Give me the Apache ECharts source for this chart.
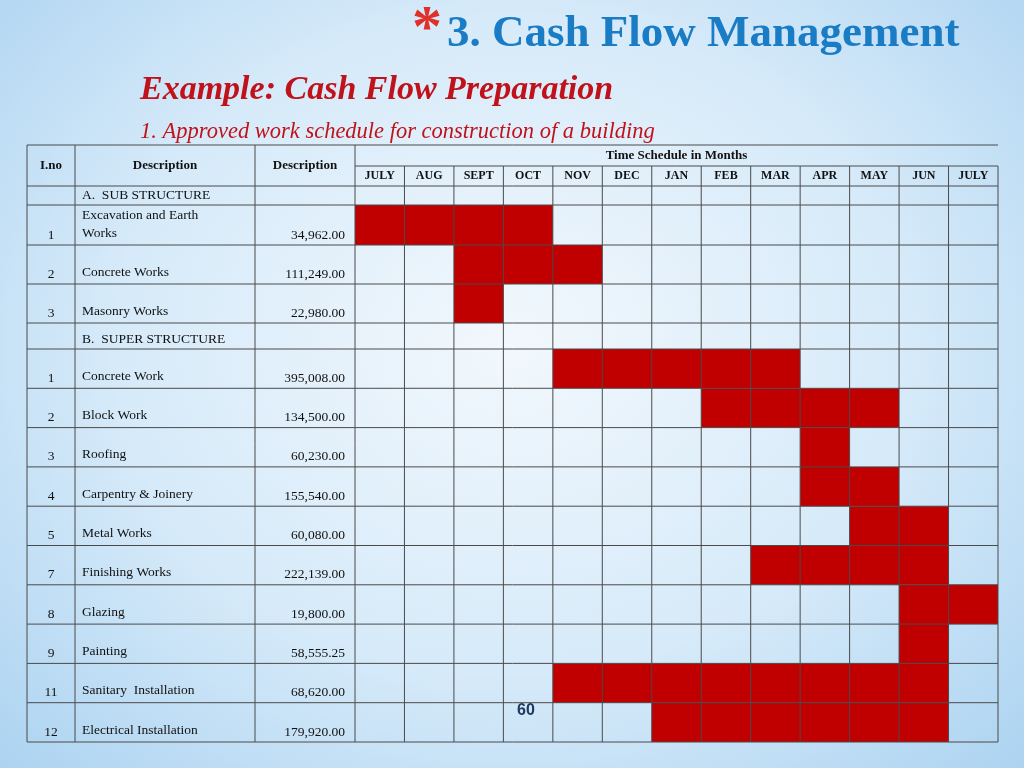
<!DOCTYPE html>
<html><head><meta charset="utf-8">
<script src="https://cdn.jsdelivr.net/npm/echarts@6/dist/echarts.min.js"></script>
<style>html,body{margin:0;padding:0}#c{width:1024px;height:768px;background:radial-gradient(ellipse at 50% 45%,#f2f8fd 0%,#d6eaf9 55%,#acd3f1 100%)}</style>
</head><body><div id="c"></div>
<script>
var months=['JULY','AUG','SEPT','OCT','NOV','DEC','JAN','FEB','MAR','APR','MAY','JUN','JULY'];
var ino=['','1','2','3','','1','2','3','4','5','7','8','9','11','12'];
var desc=['A.  SUB STRUCTURE','Excavation and Earth\nWorks','Concrete Works','Masonry Works','B.  SUPER STRUCTURE','Concrete Work','Block Work','Roofing','Carpentry & Joinery','Metal Works','Finishing Works','Glazing','Painting','Sanitary  Installation','Electrical Installation'];
var amount=['','34,962.00','111,249.00','22,980.00','','395,008.00','134,500.00','60,230.00','155,540.00','60,080.00','222,139.00','19,800.00','58,555.25','68,620.00','179,920.00'];
var startM=[null,0,2,2,null,4,7,9,9,10,8,11,11,4,6];
var endM=[null,3,4,2,null,8,10,9,10,11,11,12,11,11,11];
var H=[21,20,19,40,39,39,26,39.3,39.3,39.3,39.3,39.3,39.3,39.3,39.3,39.3,39.3];
var B=[0];H.forEach(function(h){B.push(B[B.length-1]+h);});
var total=B[B.length-1];
var font='"Liberation Serif","DejaVu Serif",serif';
var colX=[-328,-280,-100,0];
var line={stroke:'#4a4a4a',lineWidth:1};
function tableItem(params,api){
  var ch=[];
  var x0=api.coord([0,0])[0], x13=api.coord([13,0])[0];
  var Y=function(v){return api.coord([0,v])[1];};
  var L=x0+colX[0];
  for(var i=0;i<B.length;i++){
    var y=Y(B[i]);
    var xs=(i==1)?x0:L;
    ch.push({type:'line',shape:{x1:xs,y1:y,x2:x13,y2:y},style:line});
  }
  colX.forEach(function(o){ch.push({type:'line',shape:{x1:x0+o,y1:Y(0),x2:x0+o,y2:Y(total)},style:line});});
  for(var m=1;m<=13;m++){var xx=api.coord([m,0])[0];ch.push({type:'line',shape:{x1:xx,y1:Y(B[1]),x2:xx,y2:Y(total)},style:line});}
  var hy=(Y(0)+Y(B[2]))/2;
  var hs={font:'bold 13px '+font,fill:'#111',align:'center',verticalAlign:'middle'};
  ch.push({type:'text',style:Object.assign({text:'I.no',x:(x0+colX[0]+x0+colX[1])/2,y:hy},hs)});
  ch.push({type:'text',style:Object.assign({text:'Description',x:(x0+colX[1]+x0+colX[2])/2,y:hy},hs)});
  ch.push({type:'text',style:Object.assign({text:'Description',x:(x0+colX[2]+x0)/2,y:hy},hs)});
  ch.push({type:'text',style:Object.assign({text:'Time Schedule in Months',x:(x0+x13)/2,y:(Y(0)+Y(B[1]))/2},hs)});
  months.forEach(function(mn,k){ch.push({type:'text',style:Object.assign({text:mn,x:api.coord([k+0.5,0])[0],y:(Y(B[1])+Y(B[2]))/2},hs,{font:'bold 12px '+font})});});
  for(var r=0;r<desc.length;r++){
    var yb=Y(B[r+3])-3;
    var isSec=(ino[r]==='' && amount[r]==='');
    var ts={font:'13.5px '+font,fill:'#111',verticalAlign:'bottom'};
    if(isSec){ch.push({type:'text',style:Object.assign({text:desc[r],x:x0+colX[1]+7,y:yb},ts)});continue;}
    ch.push({type:'text',style:Object.assign({text:ino[r],x:(x0+colX[0]+x0+colX[1])/2,y:yb,align:'center'},ts)});
    ch.push({type:'text',style:Object.assign({text:desc[r],x:x0+colX[1]+7,y:yb,lineHeight:18},ts)});
    ch.push({type:'text',style:Object.assign({text:amount[r],x:x0-10,y:yb,align:'right'},ts)});
  }
  return {type:'group',children:ch};
}
var barData=[];
startM.forEach(function(s,r){if(s!==null)barData.push([s,endM[r]+1,r]);});
var chart=echarts.init(document.getElementById('c'));
chart.setOption({
  backgroundColor:'transparent',
  graphic:[
    {type:'text',left:412,top:0,style:{text:'*',font:'bold 60px '+font,fill:'#e0302a'}},
    {type:'text',left:447,top:12,style:{text:'3. Cash Flow Management',font:'bold 45px '+font,fill:'#1a7cc4'}},
    {type:'text',left:140,top:73,style:{text:'Example: Cash Flow Preparation',font:'italic bold 34px '+font,fill:'#c0121a'}},
    {type:'text',left:140,top:121,style:{text:'1. Approved work schedule for construction of a building',font:'italic 22.5px '+font,fill:'#c0121a'}},
    {type:'text',left:517,top:703,z:10,style:{text:'60',font:'bold 16px "Liberation Sans",Arial,sans-serif',fill:'#1f3a60'}}
  ],
  grid:{left:355,right:26,top:145,bottom:26},
  xAxis:{type:'value',min:0,max:13,show:false},
  yAxis:{type:'value',min:0,max:total,inverse:true,show:false},
  series:[
    {type:'custom',z:1,data:barData,renderItem:function(p,api){
      var r=api.value(2);
      var a=api.coord([api.value(0),B[r+2]]), b=api.coord([api.value(1),B[r+3]]);
      return {type:'rect',shape:{x:a[0],y:a[1],width:b[0]-a[0],height:b[1]-a[1]},style:{fill:'#c00000'}};
    }},
    {type:'custom',z:2,data:[[0,0]],renderItem:tableItem,silent:true}
  ]
});
</script></body></html>
